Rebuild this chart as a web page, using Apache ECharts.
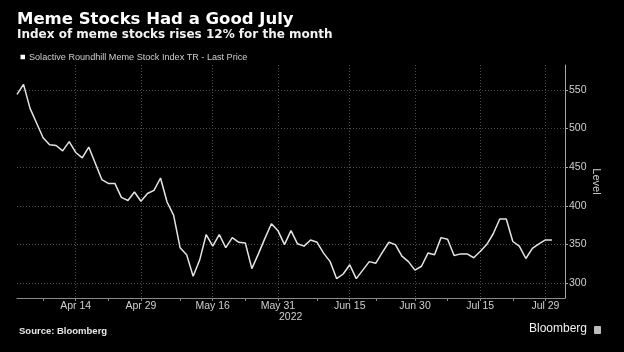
<!doctype html>
<html>
<head>
<meta charset="utf-8">
<title>Meme Stocks Had a Good July</title>
<script src="https://cdn.jsdelivr.net/npm/echarts@6/dist/echarts.min.js"></script>
<style>
html,body{margin:0;padding:0;background:#000;}
</style>
</head>
<body>
<div id="chart" style="width:624px;height:352px;"></div>
<script type="text/javascript">
// trading days Apr 1 - Aug 3 2022 (last two left empty, axis runs past the data)
var days = ['Apr 1','Apr 4','Apr 5','Apr 6','Apr 7','Apr 8','Apr 11','Apr 12','Apr 13','Apr 14',
	'Apr 18','Apr 19','Apr 20','Apr 21','Apr 22','Apr 25','Apr 26','Apr 27','Apr 28','Apr 29',
	'May 2','May 3','May 4','May 5','May 6','May 9','May 10','May 11','May 12','May 13',
	'May 16','May 17','May 18','May 19','May 20','May 23','May 24','May 25','May 26','May 27','May 31',
	'Jun 1','Jun 2','Jun 3','Jun 6','Jun 7','Jun 8','Jun 9','Jun 10','Jun 13','Jun 14',
	'Jun 15','Jun 16','Jun 17','Jun 21','Jun 22','Jun 23','Jun 24','Jun 27','Jun 28','Jun 29','Jun 30',
	'Jul 1','Jul 5','Jul 6','Jul 7','Jul 8','Jul 11','Jul 12','Jul 13','Jul 14','Jul 15',
	'Jul 18','Jul 19','Jul 20','Jul 21','Jul 22','Jul 25','Jul 26','Jul 27','Jul 28','Jul 29',
	'Aug 1','Aug 2','Aug 3'];
// Solactive Roundhill Meme Stock Index TR - Last Price
var level = [544,557,526,507,488,479,478,471,483,469,
	462,476,455,434,429,429,411,407,418,406,
	416,420,436,405,388,346,337,309,330,363,
	348,363,346,359,353,352,319,338,358,377,368,
	350,368,351,348,356,353,339,328,306,312,
	324,306,317,328,326,340,353,350,335,328,317,
	322,339,337,359,357,336,338,338,333,341,
	350,364,383,383,354,348,332,345,351,356,
	356];
var labelDays = ['Apr 14','Apr 29','May 16','May 31','Jun 15','Jun 30','Jul 15','Jul 29'];
var minorDays = ['Apr 7','Apr 22','May 9','May 23','Jun 8','Jun 22','Jul 8','Jul 22'];
var seriesName = 'Solactive Roundhill Meme Stock Index TR - Last Price';

var mychart = echarts.init(document.getElementById('chart'), null, {renderer: 'canvas'});
mychart.setOption({
	backgroundColor: '#000',
	animation: false,
	title: [{
		text: 'Meme Stocks Had a Good July',
		left: 17, top: 11, padding: 0,
		textStyle: {color: '#fff', fontFamily: 'DejaVu Sans', fontWeight: 'bold', fontSize: 16.5}
	}, {
		text: 'Index of meme stocks rises 12% for the month',
		left: 17, top: 28.5, padding: 0,
		textStyle: {color: '#f2f2f2', fontFamily: 'DejaVu Sans', fontWeight: 'bold', fontSize: 12}
	}],
	legend: {
		data: [seriesName],
		left: 20.5, top: 52.5, padding: 0,
		icon: 'rect', itemWidth: 4.5, itemHeight: 4.5,
		textStyle: {color: '#cfcfcf', fontFamily: 'Liberation Sans', fontSize: 9.1, padding: [0, 0, 0, -1]}
	},
	grid: {left: 17, right: 59, top: 65, bottom: 54},
	xAxis: {
		type: 'category',
		data: days,
		boundaryGap: false,
		axisLine: {lineStyle: {color: '#8a8a8a', width: 1}},
		axisTick: {
			interval: function (i, v) { return labelDays.indexOf(v) >= 0 || minorDays.indexOf(v) >= 0; },
			length: 3, lineStyle: {color: '#8a8a8a'}
		},
		axisLabel: {
			interval: function (i, v) { return labelDays.indexOf(v) >= 0; },
			color: '#cfcfcf', fontFamily: 'Liberation Sans', fontSize: 10.5, margin: 3
		},
		splitLine: {
			show: true,
			interval: function (i, v) { return labelDays.indexOf(v) >= 0; },
			lineStyle: {color: '#4a4a4a', type: [1, 2], width: 1}
		}
	},
	yAxis: {
		type: 'value',
		position: 'right',
		min: 281, max: 582, splitNumber: 5,
		name: 'Level',
		nameLocation: 'middle',
		nameRotate: -90,
		nameGap: 26,
		nameMoveOverlap: false,
		nameTextStyle: {color: '#cfcfcf', fontFamily: 'Liberation Sans', fontSize: 11},
		axisLine: {show: true, lineStyle: {color: '#a8a8a8', width: 1}},
		axisTick: {show: true, length: 3, lineStyle: {color: '#a8a8a8'}},
		axisLabel: {color: '#cfcfcf', fontFamily: 'Liberation Sans', fontSize: 10.5, margin: 4,
			showMinLabel: false, showMaxLabel: false},
		splitLine: {show: true, showMinLine: false, showMaxLine: false,
			lineStyle: {color: '#4a4a4a', type: [1, 2], width: 1}}
	},
	series: [{
		name: seriesName,
		type: 'line',
		data: level,
		showSymbol: false,
		symbol: 'none',
		lineStyle: {color: '#e4e4e4', width: 1.5},
		itemStyle: {color: '#fff'}
	}],
	graphic: [{
		type: 'text', left: 279, top: 312,
		style: {text: '2022', fill: '#cfcfcf', font: '10.5px "Liberation Sans"'}
	}, {
		type: 'text', left: 19, top: 326,
		style: {text: 'Source: Bloomberg', fill: '#e6e6e6', font: 'bold 9.5px "Liberation Sans"'}
	}, {
		type: 'text', left: 529, top: 323,
		style: {text: 'Bloomberg', fill: '#f2f2f2', font: '12px "Liberation Sans"'}
	}, {
		type: 'rect', left: 594, top: 326,
		shape: {width: 7, height: 8, r: 1},
		style: {fill: '#bdbdbd'}
	}]
});
</script>
</body>
</html>
